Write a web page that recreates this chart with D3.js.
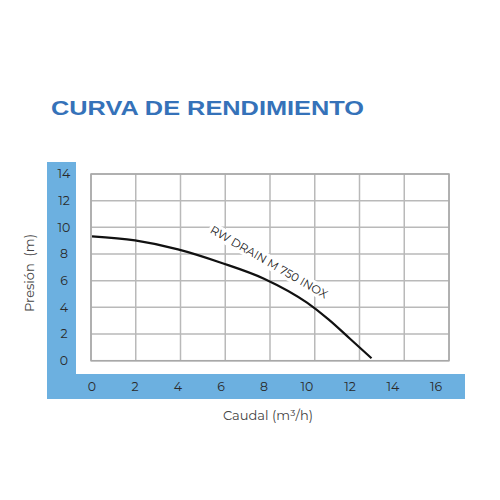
<!DOCTYPE html>
<html><head><meta charset="utf-8">
<script src="https://cdn.jsdelivr.net/npm/d3@7"></script>
<style>body{margin:0;background:#fff}svg{display:block}</style>
</head><body>
<svg id="c" width="500" height="500"></svg>
<script>
const title = "CURVA DE RENDIMIENTO";
const xTicks = [0, 2, 4, 6, 8, 10, 12, 14, 16];
const yTicks = [0, 2, 4, 6, 8, 10, 12, 14];
const flow = [0, 2, 4, 6, 8, 10, 11, 12, 13];
const pressure = [9.33, 9.02, 8.35, 7.35, 6.15, 4.35, 3.1, 1.65, 0.18];
const seriesName = "RW DRAIN M 750 INOX";
const xTitle = "Caudal (m³/h)";
const yTitle = "Presión  (m)";

const svg = d3.select("#c");
const blue = "#6cb0e0";
const gridCol = "#b9b9b9";
const font = "Montserrat, 'Open Sans', Lato, sans-serif";

const x = d3.scaleLinear().domain([0, 16]).range([92, 436]);
const gx = d3.scaleLinear().domain([0, 8]).range([91, 449]);
const y = d3.scaleLinear().domain([0, 14]).range([360.7, 174]);

// title
svg.append("text").attr("x", 51).attr("y", 115.3)
  .attr("font-family", "'Liberation Sans', Arial, sans-serif").attr("font-weight", "bold")
  .attr("font-size", 21).attr("fill", "#3572b9")
  .attr("textLength", 313).attr("lengthAdjust", "spacingAndGlyphs").text(title);

// blue bars
svg.append("rect").attr("x", 47).attr("y", 162).attr("width", 29).attr("height", 237).attr("fill", blue);
svg.append("rect").attr("x", 47).attr("y", 374).attr("width", 418).attr("height", 25).attr("fill", blue);

// grid
const g = svg.append("g");
g.selectAll("line.v").data(d3.range(0, 9)).join("line")
  .attr("x1", d => gx(d)).attr("x2", d => gx(d)).attr("y1", y(14)).attr("y2", y(0))
  .attr("stroke", gridCol).attr("stroke-width", 1.5);
g.selectAll("line.h").data(yTicks).join("line")
  .attr("x1", gx(0)).attr("x2", gx(8)).attr("y1", d => y(d)).attr("y2", d => y(d))
  .attr("stroke", gridCol).attr("stroke-width", 1.5);
g.append("rect").attr("x", gx(0)).attr("y", y(14)).attr("width", gx(8) - gx(0)).attr("height", y(0) - y(14))
  .attr("fill", "none").attr("stroke", "#a8a8a8").attr("stroke-width", 1.5);

// y tick labels
svg.selectAll("text.yt").data(yTicks).join("text")
  .attr("x", 64).attr("y", d => y(d)).attr("dy", "0.35em").attr("text-anchor", "middle")
  .attr("font-family", font).attr("font-size", 12.5).attr("fill", "#2a2a2a").text(d => d);

// x tick labels
svg.selectAll("text.xt").data(xTicks).join("text")
  .attr("x", d => x(d)).attr("y", 387).attr("dy", "0.35em").attr("text-anchor", "middle")
  .attr("font-family", font).attr("font-size", 12.5).attr("fill", "#2a2a2a").text(d => d);

// curve
const line = d3.line().x(d => x(d[0])).y(d => y(d[1])).curve(d3.curveMonotoneX);
svg.append("path").datum(flow.map((f, i) => [f, pressure[i]]))
  .attr("d", line).attr("fill", "none").attr("stroke", "#111").attr("stroke-width", 2.2);

// series label with white background
const lbl = svg.append("g").attr("transform", "translate(269,262) rotate(30)");
const lt = lbl.append("text").attr("text-anchor", "middle").attr("dy", "0.35em")
  .attr("font-family", font).attr("font-size", 11.5).attr("fill", "#222").text(seriesName);
const bb = lt.node().getBBox();
lbl.insert("rect", "text").attr("x", bb.x - 2).attr("y", bb.y).attr("width", bb.width + 4).attr("height", bb.height)
  .attr("fill", "#fff");

// axis titles
svg.append("text").attr("x", 268).attr("y", 420).attr("text-anchor", "middle")
  .attr("font-family", font).attr("font-size", 13).attr("fill", "#444").text(xTitle);
svg.append("text").attr("transform", "translate(34,273) rotate(-90)").attr("text-anchor", "middle")
  .attr("font-family", font).attr("font-size", 13).attr("fill", "#444")
  .style("white-space", "pre").text(yTitle);
</script>
</body></html>
